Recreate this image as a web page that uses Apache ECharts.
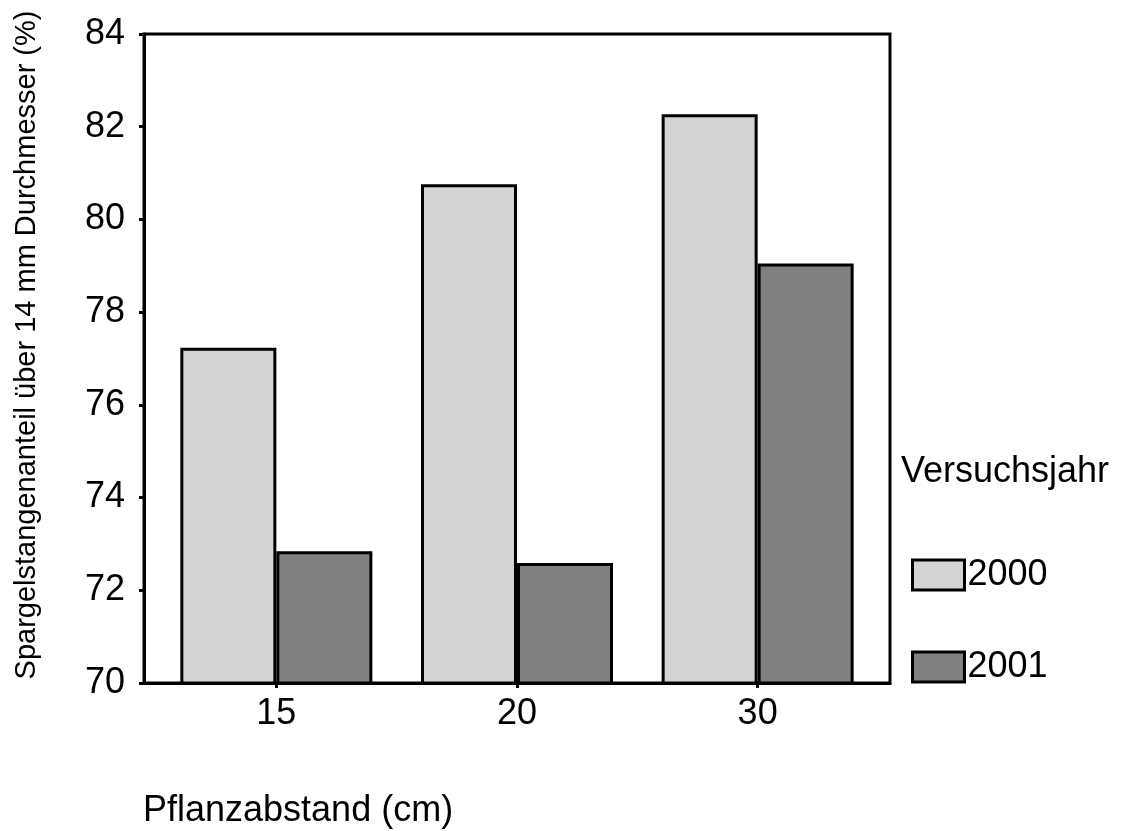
<!DOCTYPE html>
<html>
<head>
<meta charset="utf-8">
<title>Spargelstangenanteil</title>
<script src="https://cdn.jsdelivr.net/npm/echarts@6/dist/echarts.min.js"></script>
<style>
  html, body { margin: 0; padding: 0; background: #ffffff; }
  #chart { width: 1131px; height: 831px; }
</style>
</head>
<body>
<div id="chart"></div>
<script>
// Plant spacing categories (cm) and share of spears above 14 mm diameter (%)
const categories = ['15', '20', '30'];
const years = ['2000', '2001'];
const values2000 = [77.23, 80.76, 82.27];
const values2001 = [72.84, 72.59, 79.05];
const yTicks = [70, 72, 74, 76, 78, 80, 82, 84];

const FONT = '"Liberation Sans", Arial, Helvetica, sans-serif';
const positions = categories.map((c, i) => i);

const chart = echarts.init(document.getElementById('chart'), null, { renderer: 'canvas' });

const barStyle = (fill) => ({
  color: fill,
  borderColor: '#000000',
  borderWidth: 3
});

chart.setOption({
  backgroundColor: '#ffffff',
  animation: false,
  grid: {
    left: 144,
    top: 34,
    right: 241,
    bottom: 148,
    show: true,
    borderColor: '#000000',
    borderWidth: 3,
    backgroundColor: 'transparent'
  },
  xAxis: {
    type: 'value',
    min: -0.55,
    max: 2.55,
    splitLine: { show: false },
    axisLine: { show: true, onZero: false, lineStyle: { color: '#000000', width: 3 } },
    axisTick: {
      show: true,
      customValues: positions,
      length: 5,
      lineStyle: { color: '#000000', width: 3 }
    },
    axisLabel: {
      customValues: positions,
      formatter: (v) => categories[Math.round(v)],
      color: '#000000',
      fontFamily: FONT,
      fontSize: 36,
      margin: 13
    }
  },
  yAxis: {
    type: 'value',
    min: yTicks[0],
    max: yTicks[yTicks.length - 1],
    interval: 2,
    splitLine: { show: false },
    axisLine: { show: true, onZero: false, lineStyle: { color: '#000000', width: 3 } },
    axisTick: { show: true, length: 5, lineStyle: { color: '#000000', width: 3 } },
    axisLabel: {
      color: '#000000',
      fontFamily: FONT,
      fontSize: 36,
      margin: 19
    }
  },
  legend: {
    orient: 'vertical',
    left: 911,
    top: 557,
    padding: 0,
    itemWidth: 52,
    itemHeight: 30,
    itemGap: 56,
    icon: 'rect',
    data: years,
    textStyle: {
      color: '#000000',
      fontFamily: FONT,
      fontSize: 36,
      lineHeight: 30,
      padding: [0, 0, 0, -2]
    },
    itemStyle: { borderColor: '#000000', borderWidth: 3 }
  },
  graphic: [
    {
      type: 'text',
      x: 27,
      y: 345,
      rotation: Math.PI / 2,
      style: {
        text: 'Spargelstangenanteil über 14 mm Durchmesser (%)',
        fill: '#000000',
        font: '29px ' + FONT,
        textAlign: 'center',
        textVerticalAlign: 'middle'
      }
    },
    {
      type: 'text',
      x: 143,
      y: 811,
      style: {
        text: 'Pflanzabstand (cm)',
        fill: '#000000',
        font: '36px ' + FONT,
        textAlign: 'left',
        textVerticalAlign: 'middle'
      }
    },
    {
      type: 'text',
      x: 901,
      y: 472,
      style: {
        text: 'Versuchsjahr',
        fill: '#000000',
        font: '36px ' + FONT,
        textAlign: 'left',
        textVerticalAlign: 'middle'
      }
    }
  ],
  series: [
    {
      name: years[0],
      type: 'bar',
      barWidth: 96,
      barGap: '0%',
      itemStyle: barStyle('#d3d3d3'),
      data: values2000.map((v, i) => [positions[i], v])
    },
    {
      name: years[1],
      type: 'bar',
      barWidth: 96,
      barGap: '0%',
      itemStyle: barStyle('#808080'),
      data: values2001.map((v, i) => [positions[i], v])
    }
  ]
});
</script>
</body>
</html>
